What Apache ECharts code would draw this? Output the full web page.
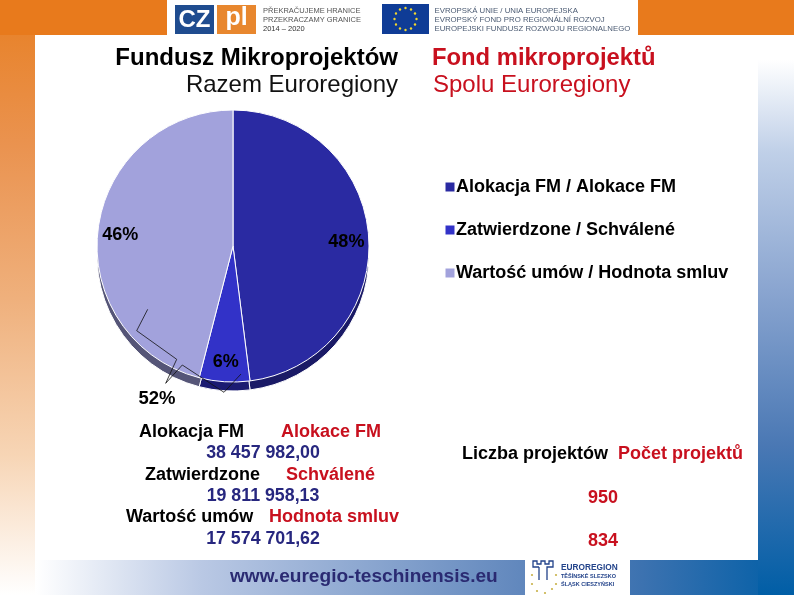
<!DOCTYPE html>
<html>
<head>
<meta charset="utf-8">
<style>html,body{margin:0;padding:0;background:#fff}#c{width:794px;height:595px}</style>
<script src="https://cdn.jsdelivr.net/npm/echarts@6/dist/echarts.min.js"></script>
</head>
<body>
<div id="c"></div>
<script>
var categories = ['Alokacja FM / Alokace FM', 'Zatwierdzone / Schválené', 'Wartość umów / Hodnota smluv'];
var shares = [48, 6, 46];
var frontColors = ['#2A2AA2', '#3232C8', '#A2A2DC'];
var sideColors = ['#1A1A66', '#1C1C72', '#555577'];
var titlesPl = ['Fundusz Mikroprojektów', 'Razem Euroregiony'];
var titlesCz = ['Fond mikroprojektů', 'Spolu Euroregiony'];
var amountLabelsPl = ['Alokacja FM', 'Zatwierdzone', 'Wartość umów'];
var amountLabelsCz = ['Alokace FM', 'Schválené', 'Hodnota smluv'];
var amounts = ['38 457 982,00', '19 811 958,13', '17 574 701,62'];
var projectCounts = ['950', '834'];
var strayLabel = '52%';
var url = 'www.euregio-teschinensis.eu';

var FONT = '"Liberation Sans", Arial, sans-serif';
var BLACK = '#000', RED = '#C8101E', NAVY = '#27277F';

function txt(x, y, s, size, color, weight, align, shadow) {
  var st = {x: x, y: y, text: s, fill: color,
    font: (weight || 'normal') + ' ' + size + 'px ' + FONT,
    textAlign: align || 'left', textVerticalAlign: 'middle'};
  if (shadow) { st.shadowColor = 'rgba(120,120,120,0.6)'; st.shadowOffsetX = 1; st.shadowOffsetY = 1; st.shadowBlur = 1; }
  return {type: 'text', z: 20, silent: true, style: st};
}
function rect(x, y, w, h, fill, z) {
  return {type: 'rect', z: z || 1, silent: true, shape: {x: x, y: y, width: w, height: h}, style: {fill: fill}};
}
function grad(x0, y0, x1, y1, stops) {
  return new echarts.graphic.LinearGradient(x0, y0, x1, y1, stops.map(function (s) { return {offset: s[0], color: s[1]}; }));
}
var g = [];
// frame
g.push(rect(0, 35, 35, 560, grad(0, 0, 0, 1, [[0, '#E8842E'], [0.2, '#EA9350'], [0.47, '#EFB07C'], [0.75, '#F7D5B5'], [1, '#FFFFFF']])));
g.push(rect(0, 0, 167, 35, '#E87A1C'));
g.push(rect(638, 0, 156, 35, '#E87A1C'));
g.push(rect(36, 560, 758, 35, grad(0, 0, 1, 0, [[0, '#FFFFFF'], [0.22, '#B9C8E4'], [0.65, '#5F86BC'], [0.8, '#3C72B0'], [1, '#005EA6']])));
g.push(rect(758, 60, 36, 535, grad(0, 0, 0, 1, [[0, '#FFFFFF'], [0.17, '#C0D0E8'], [0.43, '#8AA5D0'], [0.72, '#4A78B4'], [1, '#005EA6']])));
// header logos
g.push(rect(175, 5, 39, 29, '#1F4C8F'));
g.push(txt(194.5, 20, 'CZ', 24, '#fff', 'bold', 'center'));
g.push(rect(217, 5, 39, 29, '#E8872E'));
g.push(txt(236.5, 18.5, 'pl', 25, '#fff', 'bold', 'center'));
['PŘEKRAČUJEME HRANICE', 'PRZEKRACZAMY GRANICE', '2014 – 2020'].forEach(function (s, i) {
  g.push(txt(263, 10.5 + i * 9, s, 7.5, i == 2 ? '#333' : '#555', 'normal'));
});
g.push(rect(382, 4, 47, 30, '#0F3C96'));
for (var i = 0; i < 12; i++) {
  var a = i * Math.PI / 6;
  g.push({type: 'circle', z: 5, silent: true, shape: {cx: 405.5 + 11 * Math.cos(a), cy: 19 + 11 * Math.sin(a), r: 1.2}, style: {fill: '#F2D72E'}});
}
['EVROPSKÁ UNIE / UNIA EUROPEJSKA', 'EVROPSKÝ FOND PRO REGIONÁLNÍ ROZVOJ', 'EUROPEJSKI FUNDUSZ ROZWOJU REGIONALNEGO'].forEach(function (s, i) {
  g.push(txt(434.5, 10.5 + i * 9.3, s, 7.8, '#4A5A72', 'normal'));
});
// footer
g.push(txt(230, 577, url, 19.1, '#2A2A72', 'bold'));
g.push(rect(525, 560, 105, 35, '#FFFFFF', 2));
g.push({type: 'polyline', z: 5, silent: true, shape: {points: [[539,567],[533,567],[533,561],[537,561],[537,564],[541,564],[541,561],[545,561],[545,564],[549,564],[549,561],[553,561],[553,567],[547,567],[547,580]]}, style: {stroke: '#23438A', fill: 'none', lineWidth: 1.3}});
g.push({type: 'polyline', z: 5, silent: true, shape: {points: [[539,567],[539,580]]}, style: {stroke: '#23438A', fill: 'none', lineWidth: 1.3}});
[[532,575],[532,584],[537,591],[545,593],[552,589],[556,584],[556,575]].forEach(function (p) {
  g.push({type: 'circle', z: 5, silent: true, shape: {cx: p[0], cy: p[1], r: 1.1}, style: {fill: '#C9B24A'}});
});
g.push(txt(561, 567.5, 'EUROREGION', 8.3, '#23438A', 'bold'));
g.push(txt(561, 576, 'TĚŠÍNSKÉ SLEZSKO', 5.5, '#23438A', 'bold'));
g.push(txt(561, 584, 'ŚLĄSK CIESZYŃSKI', 5.5, '#23438A', 'bold'));
// stray leader lines from the source slide
g.push({type: 'polyline', z: 30, silent: true, shape: {points: [[147.7,309.3],[136.7,330.7],[176.7,359.3],[165.7,383.3]]}, style: {stroke: '#111', fill: 'none', lineWidth: 0.8}});
g.push({type: 'polyline', z: 30, silent: true, shape: {points: [[241,374],[224,392.3],[182.3,365],[165.7,383.3]]}, style: {stroke: '#111', fill: 'none', lineWidth: 0.8}});
g.push(txt(157, 398.5, strayLabel, 18.5, BLACK, 'bold', 'center'));
// amounts block
var px = [139, 145, 126], cx = [281, 286, 269];
amountLabelsPl.forEach(function (s, i) {
  var y = 432 + i * 42.7;
  g.push(txt(px[i], y, s, 18, BLACK, 'bold'));
  g.push(txt(cx[i], y, amountLabelsCz[i], 18, RED, 'bold'));
  g.push(txt(263, y + 21.5, amounts[i], 17.8, NAVY, 'bold', 'center', true));
});
// projects block
g.push(txt(462, 454.5, 'Liczba projektów', 18, BLACK, 'bold'));
g.push(txt(618, 454.5, 'Počet projektů', 18, RED, 'bold'));
projectCounts.forEach(function (s, i) {
  g.push(txt(603, 498 + i * 43, s, 18, RED, 'bold', 'center', true));
});

function pieData(colors) {
  return shares.map(function (v, i) {
    return {name: categories[i], value: v, itemStyle: {color: colors[i]}};
  });
}
var PIE_X = 233, PIE_Y = 246, R = 136;

var chart = echarts.init(document.getElementById('c'), null, {renderer: 'canvas', width: 794, height: 595});
chart.setOption({
  animation: false,
  backgroundColor: '#fff',
  title: [
    {text: titlesPl[0], right: 391, top: 41, textStyle: {fontFamily: FONT, fontSize: 24, fontWeight: 'bold', color: BLACK}},
    {text: titlesPl[1], right: 391, top: 68, textStyle: {fontFamily: FONT, fontSize: 24, fontWeight: 'normal', color: '#111'}},
    {text: titlesCz[0], left: 427, top: 41, textStyle: {fontFamily: FONT, fontSize: 23.8, fontWeight: 'bold', color: RED}},
    {text: titlesCz[1], left: 428, top: 68, textStyle: {fontFamily: FONT, fontSize: 24, fontWeight: 'normal', color: RED}}
  ],
  legend: {
    orient: 'vertical', left: 445.5, top: 178, padding: 0,
    icon: 'rect', itemWidth: 2, itemHeight: 2, itemGap: 25, selectedMode: false,
    data: categories.map(function (name, i) {
      return {name: name, itemStyle: {color: frontColors[i], borderColor: frontColors[i], borderWidth: 7, borderJoin: 'miter'}};
    }),
    textStyle: {fontFamily: FONT, fontSize: 18, fontWeight: 'bold', color: BLACK}
  },
  graphic: g,
  series: [
    {
      type: 'pie', silent: true, z: 3,
      center: [PIE_X, PIE_Y], radius: [0, R], startAngle: 90, clockwise: true,
      itemStyle: {borderColor: '#fff', borderWidth: 1},
      label: {show: true, position: 'inner', formatter: '{c}%', fontFamily: FONT, fontSize: 18, fontWeight: 'bold', color: BLACK},
      labelLine: {show: false},
      labelLayout: function (p) {
        var lx = p.labelRect.x + p.labelRect.width / 2, ly = p.labelRect.y + p.labelRect.height / 2;
        return {dx: (lx - PIE_X) * 0.6, dy: (ly - PIE_Y) * 0.6 + 3};
      },
      data: pieData(frontColors)
    },
    {
      type: 'pie', silent: true, z: 2, legendHoverLink: false,
      center: [PIE_X, PIE_Y + 9], radius: [0, R], startAngle: 90, clockwise: true,
      label: {show: false}, labelLine: {show: false},
      itemStyle: {borderColor: '#fff', borderWidth: 1},
      data: pieData(sideColors)
    }
  ]
});
</script>
</body>
</html>
